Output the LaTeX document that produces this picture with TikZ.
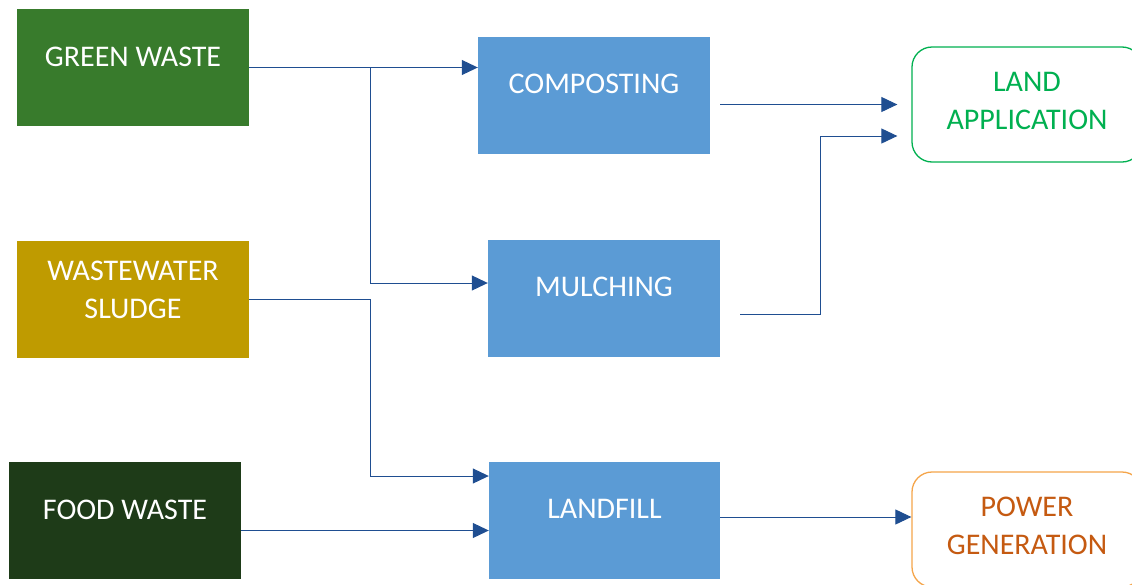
\documentclass[tikz,border=0pt]{standalone}
\usepackage{fontspec}
\setmainfont{Carlito}
\usetikzlibrary{arrows.meta,positioning}
\definecolor{greenw}{HTML}{387B2C}
\definecolor{sludgec}{HTML}{BF9B00}
\definecolor{foodc}{HTML}{1E3B18}
\definecolor{procc}{HTML}{5B9BD5}
\definecolor{flowc}{HTML}{1F4E91}
\definecolor{landc}{HTML}{00B050}
\definecolor{powerb}{HTML}{F5A54A}
\definecolor{powert}{HTML}{C55A11}

\begin{document}
\begin{tikzpicture}[x=1pt, y=-1pt,
  box/.style={rectangle, inner sep=0pt, minimum width=232pt, minimum height=117pt},
  endbox/.style={rectangle, rounded corners=20pt, line width=1.3pt, fill=white,
    inner sep=0pt, minimum width=230pt, minimum height=115pt},
  lbl/.style={font=\fontsize{30}{38}\selectfont, align=center, text=white},
  flow/.style={flowc, line width=1pt, -{Triangle[length=16pt,width=15pt]}}]
\useasboundingbox (0,0) rectangle (1132,584);
\clip (0,0) rectangle (1132,584);

% sources
\node[box, fill=greenw] (green) at (133,67.5) {};
\node[box, fill=sludgec] (sludge) at (133,299) {};
\node[box, fill=foodc] (food) at (125,520.5) {};
\node[lbl] (green-t) at ([yshift=11pt]green.center) {GREEN WASTE};
\node[lbl] (sludge-t) at ([yshift=9pt]sludge.center) {WASTEWATER\\SLUDGE};
\node[lbl] (food-t) at ([yshift=10.5pt]food.center) {FOOD WASTE};

% treatment
\node[box, fill=procc] (compost) at (594,95.5) {};
\node[box, fill=procc] (mulch) at (604,298) {};
\node[box, fill=procc, minimum width=231pt] (landfill) at (604.5,520) {};
\node[lbl] (compost-t) at ([yshift=11.5pt]compost.center) {COMPOSTING};
\node[lbl] (mulch-t) at ([yshift=11pt]mulch.center) {MULCHING};
\node[lbl] (landfill-t) at ([yshift=11pt]landfill.center) {LANDFILL};

% end uses
\node[endbox, draw=landc] (landapp) at (1027,104.5) {};
\node[endbox, draw=powerb] (power) at (1027,529.5) {};
\node[lbl, text=landc] (landapp-t) at ([yshift=3.5pt]landapp.center) {LAND\\APPLICATION};
\node[lbl, text=powert] (power-t) at ([yshift=3.5pt]power.center) {POWER\\GENERATION};

% connections
\coordinate (split) at (370,67);
\draw[flow] (green.east) -- (green.east -| compost.west);
\draw[flow] (split) |- ([yshift=15pt]mulch.west);
\draw[flow] (sludge.east) -- ++(121,0) |- ([yshift=44pt]landfill.west);
\draw[flow] ([yshift=-10pt]food.east) -- ([yshift=-10pt]food.east -| landfill.west);
\draw[flow] ([xshift=10pt]compost.east |- landapp.west) -- ([xshift=-14pt]landapp.west);
\draw[flow] ([xshift=20pt,yshift=-16pt]mulch.east) -- ++(80,0) |- ([xshift=-14pt,yshift=-31.5pt]landapp.west);
\draw[flow] ([yshift=3pt]landfill.east) -- ([yshift=3pt]landfill.east -| power.west);
\end{tikzpicture}
\end{document}
